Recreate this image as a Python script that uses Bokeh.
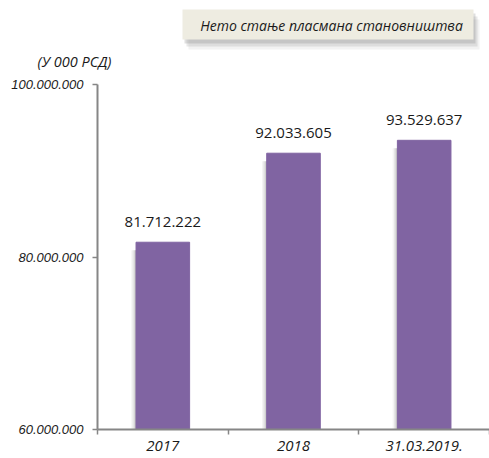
from bokeh.plotting import figure
from bokeh.models import Range1d, FixedTicker, LabelSet, ColumnDataSource
from bokeh.core.properties import value
from bokeh.embed import file_html
from bokeh.resources import INLINE

categories = ["2017", "2018", "31.03.2019."]
values = [81712222, 92033605, 93529637]
y_ticks = [60000000, 80000000, 100000000]
title_text = "Нето стање пласмана становништва"
unit_text = "(У 000 РСД)"

def fmt(v):
    return f"{v:,}".replace(",", ".")

W, H = 489, 458
LEFT = 97                        # canvas x of the value axis
AXIS_BOTTOM_PX = 429             # canvas y of the category axis (60M)
AXIS_TOP_PX = 84                 # canvas y of the top tick (100M)
n = len(categories)
px_per_x = (W - LEFT) / n
val_per_px = (y_ticks[-1] - y_ticks[0]) / (AXIS_BOTTOM_PX - AXIS_TOP_PX)

def dx(px):   # canvas x pixel -> data x
    return (px - LEFT) / px_per_x

def dy(py):   # canvas y pixel -> data y
    return y_ticks[0] + (AXIS_BOTTOM_PX - py) * val_per_px

xs = [i + 0.5 for i in range(n)]
src = ColumnDataSource(dict(x=xs, top=values, label=[fmt(v) for v in values]))

p = figure(width=W, height=H, output_backend="svg", toolbar_location=None,
           x_range=Range1d(dx(0), n), y_range=Range1d(dy(H), dy(0)),
           min_border_left=0, min_border_right=0, min_border_top=0, min_border_bottom=0)
p.outline_line_color = None
p.xgrid.grid_line_color = None
p.ygrid.grid_line_color = None

# ---- title box with soft shadow ----
for ox, oy, a in [(6, 10, 0.10), (4, 7, 0.18), (2, 4, 0.25)]:
    p.quad(left=[dx(182 + ox)], right=[dx(473 + ox)], top=[dy(9 + oy)], bottom=[dy(39 + oy)],
           fill_color="#7f7f7f", fill_alpha=a, line_color=None)
p.quad(left=[dx(182)], right=[dx(473)], top=[dy(9)], bottom=[dy(39)],
       fill_color="#EEECE1", line_color=None)
p.text(x=[dx(331)], y=[dy(25)], text=[title_text], text_align="center",
       text_baseline="middle", text_font=value("Open Sans"), text_font_style="italic",
       text_font_size="14px", text_color="#1a1a1a")

# unit label
p.text(x=[dx(74)], y=[dy(61)], text=[unit_text], text_align="center",
       text_baseline="middle", text_font=value("Open Sans"), text_font_style="italic",
       text_font_size="14.5px", text_color="#1a1a1a")

# ---- bars with soft left shadow ----
for off, a in [(0.036, 0.08), (0.026, 0.10), (0.016, 0.14), (0.008, 0.18)]:
    p.vbar(x=[x - off for x in xs], top=[v - 8 * val_per_px for v in values],
           bottom=y_ticks[0], width=0.41, color="#707070", alpha=a, line_color=None)
p.vbar(x="x", top="top", bottom=y_ticks[0], width=0.41, source=src,
       fill_color="#8064A2", line_color="#8064A2")

p.add_layout(LabelSet(x="x", y="top", text="label", source=src, text_align="center",
                      text_baseline="alphabetic", y_offset=15,
                      text_font=value("Open Sans"), text_font_size=value("15px"),
                      text_color="#1a1a1a"))

ax_col = "#868686"
p.xaxis.fixed_location = y_ticks[0]
p.xaxis.ticker = FixedTicker(ticks=xs, minor_ticks=list(range(n + 1)))
p.xaxis.bounds = (0, n)
p.xaxis.major_label_overrides = {x: c for x, c in zip(xs, categories)}
p.xaxis.major_tick_out = 0
p.xaxis.major_tick_in = 0
p.xaxis.minor_tick_out = 5
p.xaxis.minor_tick_in = 0
p.xaxis.minor_tick_line_color = ax_col
p.xaxis.minor_tick_line_width = 1.5
p.xaxis.axis_line_color = ax_col
p.xaxis.axis_line_width = 2
p.xaxis.major_label_text_font = "Open Sans"
p.xaxis.major_label_text_font_style = "italic"
p.xaxis.major_label_text_font_size = "15px"
p.xaxis.major_label_text_color = "#1a1a1a"
p.xaxis.major_label_standoff = 6

p.yaxis.fixed_location = 0
p.yaxis.ticker = FixedTicker(ticks=y_ticks, minor_ticks=[])
p.yaxis.bounds = (y_ticks[0], y_ticks[-1])
p.yaxis.major_label_overrides = {v: fmt(v) for v in y_ticks}
p.yaxis.major_tick_out = 5
p.yaxis.major_tick_in = 0
p.yaxis.major_tick_line_color = ax_col
p.yaxis.major_tick_line_width = 1.5
p.yaxis.minor_tick_line_color = None
p.yaxis.axis_line_color = ax_col
p.yaxis.axis_line_width = 2
p.yaxis.major_label_text_font = "Liberation Sans"
p.yaxis.major_label_text_font_style = "italic"
p.yaxis.major_label_text_font_size = "13px"
p.yaxis.major_label_text_color = "#1a1a1a"
p.yaxis.major_label_standoff = 9

open("out.html", "w").write(file_html(p, INLINE))
